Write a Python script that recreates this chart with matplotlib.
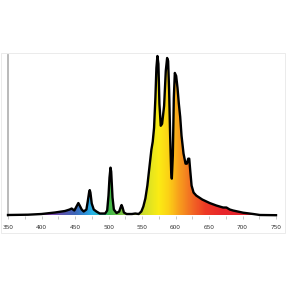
import numpy as np
import matplotlib
matplotlib.use("Agg")
import matplotlib.pyplot as plt
from matplotlib.colors import LinearSegmentedColormap
from matplotlib.patches import Rectangle

# spectrum (wavelength nm, relative intensity)
wavelength = [350, 380, 400, 420, 435, 442, 445, 449, 453, 455, 457, 460, 463, 467, 469,
              471, 472, 473, 475, 478, 482, 487, 495, 498, 500, 501.5, 503, 504, 506, 508,
              512, 516, 518, 519.5, 521, 523, 527, 535, 540, 545, 549, 552, 555, 558,
              561, 564, 566, 568, 570, 571.5, 573, 574.5, 576, 578, 580, 583, 585.5, 587.5,
              589, 590.5, 592, 593.5, 594.5, 596, 597.5, 599, 601, 603, 605, 607, 609, 612,
              615, 617, 619, 620.5, 622, 624, 627, 631, 640, 651, 661, 671, 676, 681,
              686, 701, 716, 726, 750]
intensity = [0.5, 0.8, 1.5, 3, 4.5, 6, 7, 5, 10, 12.5, 10, 6, 4, 6, 14,
             23, 25.5, 23, 12, 6, 4, 2, 2, 5, 20, 38, 48, 44, 18, 6,
             2.5, 4, 8, 10.5, 8, 3, 1.5, 1.5, 2, 1.5, 4, 9, 17, 30,
             48, 66, 74, 88, 118, 148, 160, 152, 112, 90, 92, 110, 145, 158,
             155, 125, 80, 45, 37, 60, 118, 143, 140, 128, 112, 99, 80, 62,
             52, 52, 57, 57, 45, 30, 23, 20, 16, 12.5, 10, 8, 8, 6,
             5, 2.8, 1.5, 0.5, 0.3]

tick_vals = [350, 400, 450, 500, 550, 600, 650, 700, 750]

# colour of the fill by wavelength
stops = [(350, "#4a2a66"), (385, "#7a35a0"), (405, "#9342b4"), (430, "#5c53ad"),
         (450, "#3d66b8"), (465, "#2f8fd6"), (475, "#27b4e8"), (490, "#2bb5b0"),
         (500, "#3cb84a"), (520, "#7cc242"), (540, "#b5d334"), (555, "#d4df28"),
         (575, "#fbec14"), (590, "#fcd116"), (605, "#f8a11c"), (625, "#f26a24"),
         (645, "#ee3a25"), (670, "#e8262b"), (750, "#e02030")]
cmap = LinearSegmentedColormap.from_list(
    "spec", [((w - 350) / 400, c) for w, c in stops])

fig = plt.figure(figsize=(2.86, 2.86), dpi=100)
ax = fig.add_axes([8 / 286, 70.5 / 286, 268 / 286, 160.5 / 286])

poly = ax.fill_between(wavelength, intensity, 0, color="none", lw=0)
grad = np.linspace(0, 1, 800).reshape(1, -1)
img = ax.imshow(grad, extent=(350, 750, 0, 161), aspect="auto", cmap=cmap,
                origin="lower", zorder=1)
img.set_clip_path(poly.get_paths()[0], transform=ax.transData)

ax.plot(wavelength, intensity, color="black", lw=1.7, solid_joinstyle="round",
        zorder=3, clip_on=False)

ax.set_xlim(350, 750)
ax.set_ylim(0, 161)
ax.set_xticks(tick_vals)
ax.set_xticks(np.arange(375, 750, 50), minor=True)
ax.set_xticklabels([str(v) for v in tick_vals], fontsize=4.5, color="#222222",
                   family="Open Sans")
ax.tick_params(axis="x", which="both", length=2, width=0.5, color="#b0b0b0", pad=4.5)
ax.set_yticks([])
for s in ["top", "right", "bottom"]:
    ax.spines[s].set_visible(False)
ax.spines["left"].set_color("#b4b4b4")
ax.spines["left"].set_linewidth(1.3)

fig.patches.append(Rectangle((1 / 286, 53 / 286), 283.5 / 286, 180 / 286,
                             transform=fig.transFigure, fill=False,
                             edgecolor="#e8e8e8", lw=0.6))

fig.savefig("out.png", dpi=100)
